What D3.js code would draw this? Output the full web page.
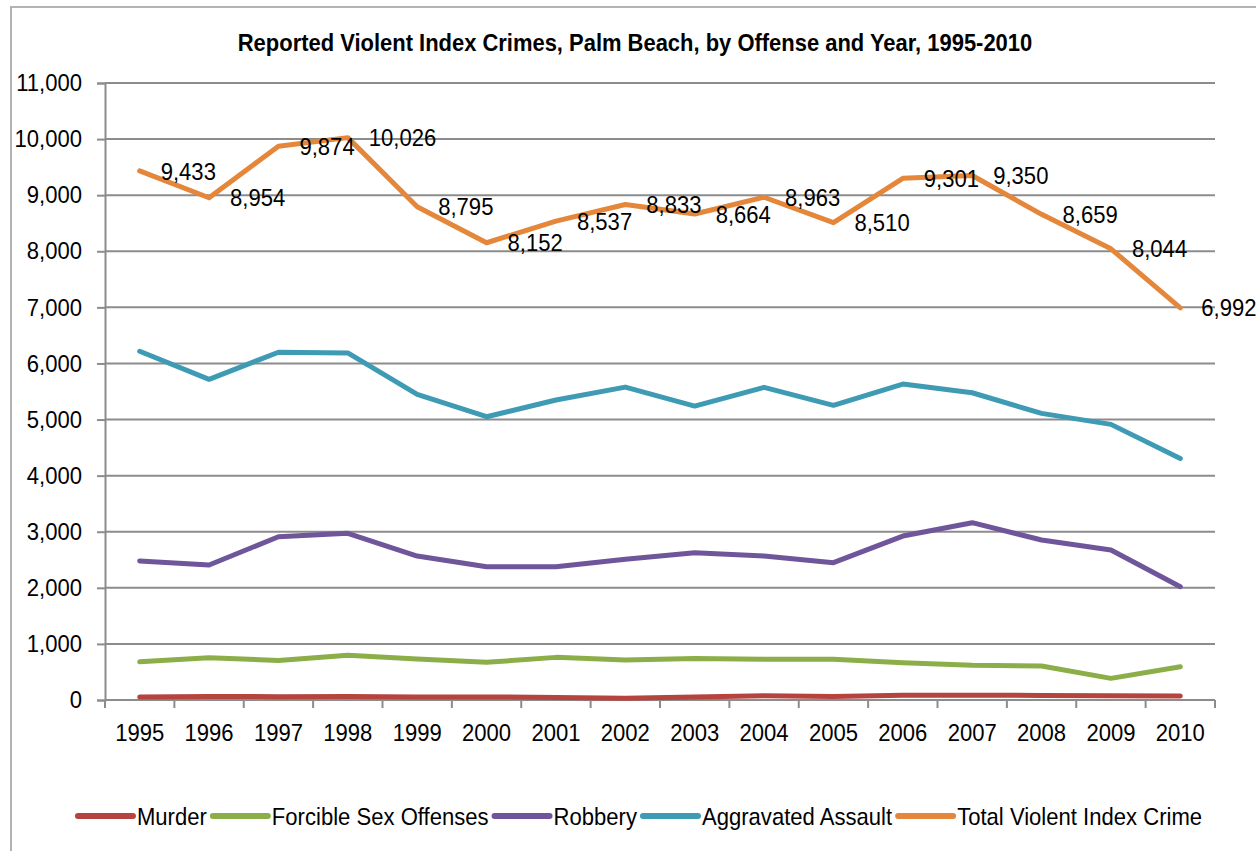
<!DOCTYPE html>
<html>
<head>
<meta charset="utf-8">
<script src="https://cdn.jsdelivr.net/npm/d3@7"></script>
<style>
  body { margin: 0; background: #fff; }
  text { font-family: "Liberation Sans", Arial, sans-serif; fill: #000; }
</style>
</head>
<body>
<div id="chart"></div>
<script>
const years = ["1995","1996","1997","1998","1999","2000","2001","2002","2003","2004","2005","2006","2007","2008","2009","2010"];
const murder = [55, 62, 60, 62, 55, 55, 45, 32, 55, 75, 62, 85, 85, 82, 75, 72];
const sexOffenses = [680, 755, 705, 796, 731, 671, 760, 713, 742, 725, 725, 665, 618, 606, 386, 594];
const robbery = [2480, 2406, 2911, 2971, 2567, 2376, 2376, 2510, 2626, 2567, 2448, 2923, 3161, 2852, 2674, 2020];
const assault = [6218, 5717, 6200, 6187, 5449, 5050, 5348, 5578, 5240, 5574, 5253, 5633, 5478, 5110, 4914, 4306];
const totalViolent = [9433, 8954, 9874, 10026, 8795, 8152, 8537, 8833, 8664, 8963, 8510, 9301, 9350, 8659, 8044, 6992];
const seriesNames = ["Murder", "Forcible Sex Offenses", "Robbery", "Aggravated Assault", "Total Violent Index Crime"];
const seriesColors = ["#b5443f", "#8cae48", "#6f559a", "#3f9bb4", "#e4873a"];
const yTicks = [0, 1000, 2000, 3000, 4000, 5000, 6000, 7000, 8000, 9000, 10000, 11000];

const W = 1256, H = 851;
const plotLeft = 105, plotRight = 1215, plotTop = 83, plotBottom = 700;
const narrow = 0.92;   //the source font is a condensed one, squeeze the regular one

//horizontally squeeze text around its own anchor point
function squeeze(sel, k) {
    sel.each(function() {
        const ax = +(this.getAttribute("x") || 0);
        const old = this.getAttribute("transform") || "";
        this.setAttribute("transform", `${old} translate(${ax},0) scale(${k},1) translate(${-ax},0)`);
    });
}

const svg = d3.select("#chart").append("svg")
    .attr("width", W)
    .attr("height", H);

//outer frame (runs off the right and bottom edge)
svg.append("rect")
    .attr("x", 11).attr("y", 7)
    .attr("width", W + 20).attr("height", H + 20)
    .attr("fill", "none")
    .attr("stroke", "#b3b3b3")
    .attr("stroke-width", 2);

svg.append("text")
    .attr("x", 635).attr("y", 51)
    .attr("text-anchor", "middle")
    .style("font-size", "23px")
    .style("font-weight", "bold")
    .text("Reported Violent Index Crimes, Palm Beach, by Offense and Year, 1995-2010")
    .call(squeeze, 0.955);

const x = d3.scaleBand().domain(years).range([plotLeft, plotRight]);
const y = d3.scaleLinear().domain([0, 11000]).range([plotBottom, plotTop]);
const fmt = d3.format(",");

//gridlines
svg.append("g")
    .selectAll("line")
    .data(yTicks.filter(d => d > 0))
    .enter().append("line")
    .attr("x1", plotLeft).attr("x2", plotRight)
    .attr("y1", d => y(d)).attr("y2", d => y(d))
    .attr("stroke", "#8c8c8c")
    .attr("stroke-width", 2);

//y axis
const yAxis = svg.append("g")
    .attr("transform", `translate(${plotLeft},0)`)
    .call(d3.axisLeft(y).tickValues(yTicks).tickFormat(fmt).tickSize(8).tickPadding(15));
yAxis.select(".domain").attr("stroke", "#8c8c8c").attr("stroke-width", 2);
yAxis.selectAll(".tick line").attr("stroke", "#8c8c8c").attr("stroke-width", 2);
yAxis.selectAll(".tick text")
    .style("font-family", "'Liberation Sans', Arial, sans-serif")
    .style("font-size", "24px")
    .call(squeeze, narrow);

//x axis: labels under band centres, ticks on band edges
const xAxis = svg.append("g")
    .attr("transform", `translate(0,${plotBottom})`)
    .call(d3.axisBottom(x).tickSize(0).tickPadding(24));
xAxis.select(".domain").remove();
xAxis.selectAll(".tick text")
    .style("font-family", "'Liberation Sans', Arial, sans-serif")
    .style("font-size", "24px")
    .call(squeeze, narrow);

const edges = years.map(d => x(d)).concat([plotRight]);
svg.append("line")
    .attr("x1", plotLeft).attr("x2", plotRight)
    .attr("y1", plotBottom).attr("y2", plotBottom)
    .attr("stroke", "#8c8c8c").attr("stroke-width", 2);
svg.append("g")
    .selectAll("line")
    .data(edges)
    .enter().append("line")
    .attr("x1", d => d).attr("x2", d => d)
    .attr("y1", plotBottom).attr("y2", plotBottom + 8)
    .attr("stroke", "#8c8c8c").attr("stroke-width", 2);

//series lines
const allSeries = [murder, sexOffenses, robbery, assault, totalViolent];
const line = d3.line()
    .x((d, i) => x(years[i]) + x.bandwidth() / 2)
    .y(d => y(d));

svg.append("g")
    .selectAll("path")
    .data(allSeries)
    .enter().append("path")
    .attr("d", line)
    .attr("fill", "none")
    .attr("stroke", (d, i) => seriesColors[i])
    .attr("stroke-width", 5)
    .attr("stroke-linejoin", "round")
    .attr("stroke-linecap", "round");

//data labels for the total
svg.append("g")
    .selectAll("text")
    .data(totalViolent)
    .enter().append("text")
    .attr("x", (d, i) => x(years[i]) + x.bandwidth() / 2 + 21)
    .attr("y", d => y(d))
    .attr("dy", "0.36em")
    .style("font-size", "24px")
    .text(d => fmt(d))
    .call(squeeze, narrow);

//legend, centred under the plot
const legend = svg.append("g").attr("class", "legend");
const sample = 55, gapText = 4, gapItem = 6;
let cursor = 0;
seriesNames.forEach((name, i) => {
    const g = legend.append("g");
    g.append("line")
        .attr("x1", 0).attr("x2", sample)
        .attr("y1", 0).attr("y2", 0)
        .attr("stroke", seriesColors[i])
        .attr("stroke-width", 6)
        .attr("stroke-linecap", "round");
    const t = g.append("text")
        .attr("x", sample + gapText)
        .attr("y", 0)
        .attr("dy", "0.36em")
        .style("font-size", "24px")
        .text(name)
        .call(squeeze, narrow);
    const w = sample + gapText + t.node().getComputedTextLength() * narrow;
    g.attr("transform", `translate(${cursor},0)`);
    cursor += w + gapItem;
});
cursor -= gapItem;
legend.attr("transform", `translate(${640 - cursor / 2},816)`);
</script>
</body>
</html>
